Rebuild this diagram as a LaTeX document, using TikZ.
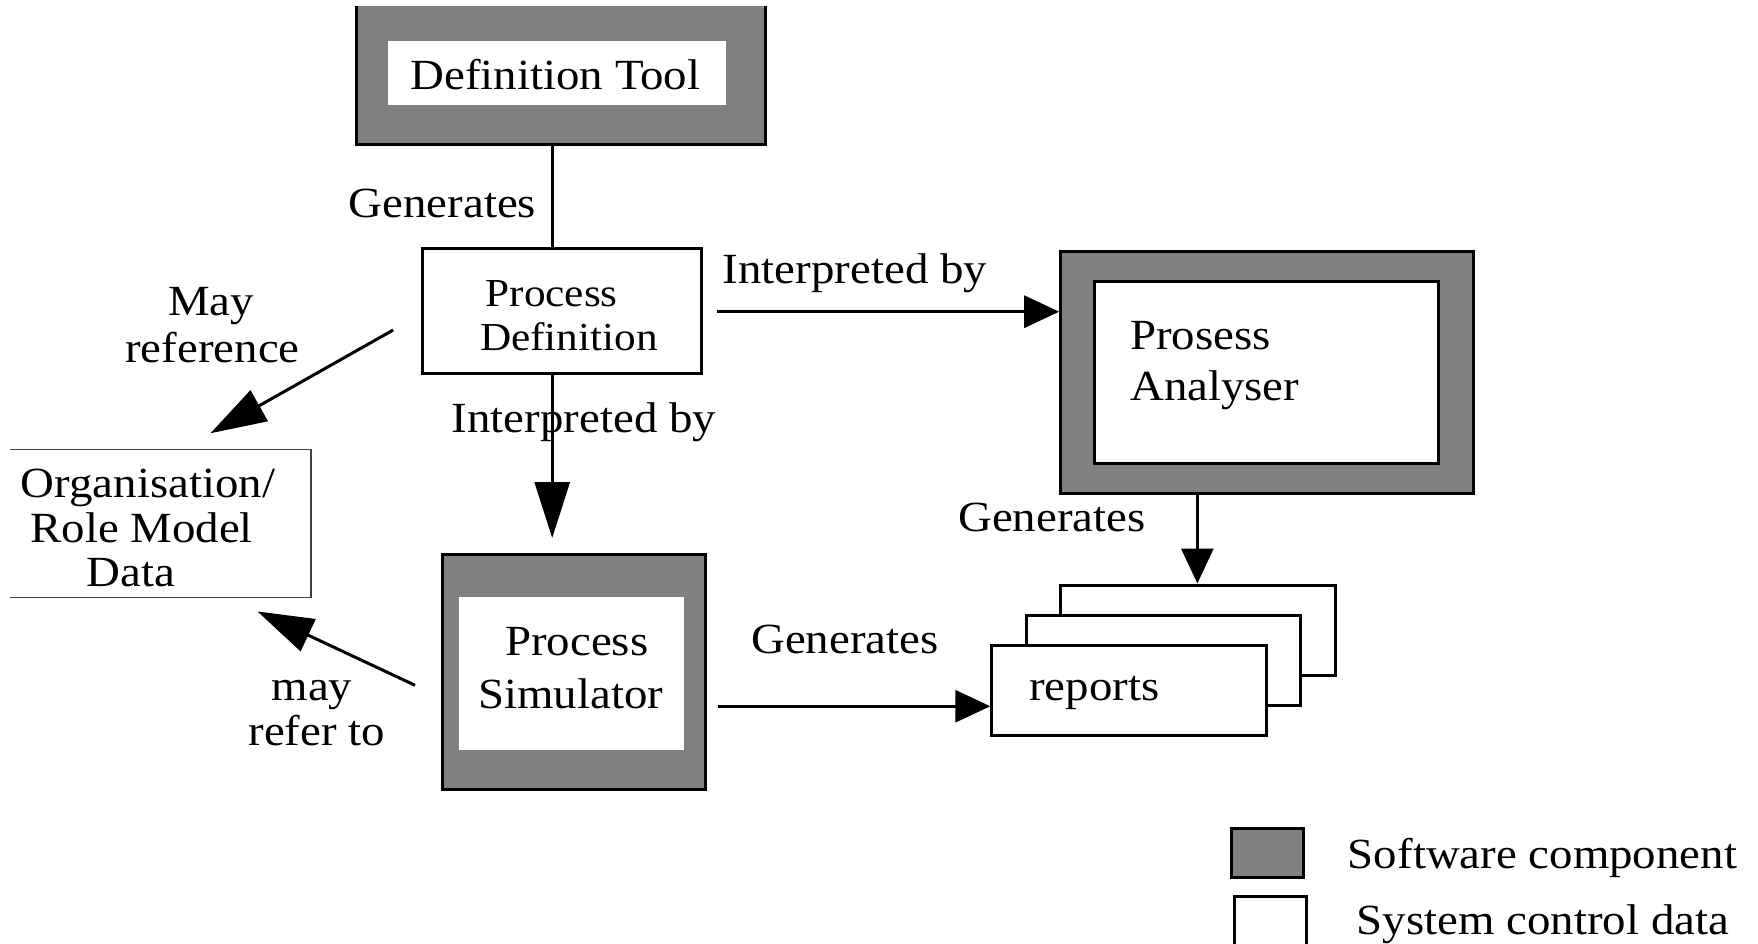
\documentclass[tikz,border=0pt]{standalone}
\usepackage{fontspec}
\setmainfont{Liberation Serif}[FakeStretch=1.09]
\usetikzlibrary{arrows.meta}
\definecolor{swgray}{RGB}{128,128,128}
\newcommand\lblfont{\fontsize{43}{47}\selectfont}
\newcommand\pdfont{\fontsize{39.7}{44}\selectfont}
\tikzset{
  lbl/.style={font=\lblfont, inner sep=0pt, anchor=base},
  lblw/.style={font=\lblfont, inner sep=0pt, anchor=base west},
  swouter/.style={draw=black, fill=swgray, line width=3pt, inner sep=0pt},
  swinner/.style={fill=white, inner sep=0pt},
  databox/.style={draw=black, fill=white, line width=3pt, inner sep=0pt},
  conn/.style={line width=3pt, draw=black},
  bigarrow/.style={-{Triangle[length=56pt,width=35pt]}},
  smallarrow/.style={-{Triangle[length=35pt,width=32pt]}},
}
\begin{document}
\begin{tikzpicture}[x=1pt, y=-1pt]
\useasboundingbox (0,0) rectangle (1758,944);
\fill[white] (0,0) rectangle (1758,944);

% Definition Tool (software component, its top runs off the page)
\begin{scope}
  \clip (0,7) rectangle (1758,944);
  \node[swouter, minimum width=409pt, minimum height=165pt] (dt) at (560.5,62.5) {};
\end{scope}
\node[swinner, minimum width=337.4pt, minimum height=64.3pt] (dtin) at (557,72.85) {};
\node[lbl] (dtlbl) at (555.5,90) {Definition Tool};

% Process Definition (system control data)
\node[databox, minimum width=279pt, minimum height=125pt] (pd) at (562.2,310.5) {};
\node[lbl, font=\pdfont] (pdl1) at (551.7,306.7) {Process};
\node[lbl, font=\pdfont] (pdl2) at (569,350) {Definition};

% Organisation / Role Model Data
\node[inner sep=0pt, line width=1.5pt, minimum width=299pt, minimum height=146.7pt] (org) at (160.5,523.35) {};
\draw[line width=1.5pt, black!75] (org.north west) -- (org.north east) -- (org.south east) -- (org.south west);
\node[lbl] (orgl1) at (148,497.7) {Organisation/};
\node[lbl] (orgl2) at (141.7,542.7) {Role Model};
\node[lbl] (orgl3) at (130.7,586) {Data};

% Process Simulator (software component)
\node[swouter, minimum width=263pt, minimum height=234.5pt] (ps) at (574.2,671.75) {};
\node[swinner, minimum width=225pt, minimum height=153.3pt] (psin) at (571.8,673.35) {};
\node[lbl] (psl1) at (576.7,655) {Process};
\node[lbl] (psl2) at (570.6,708.3) {Simulator};

% Process Analyser (software component)
\node[swouter, minimum width=412.3pt, minimum height=241.6pt] (pa) at (1266.85,372.5) {};
\node[databox, minimum width=343.6pt, minimum height=181.6pt] (pain) at (1266.2,372.5) {};
\node[lblw] (pal1) at (1130,349.3) {Prosess};
\node[lblw] (pal2) at (1130,400) {Analyser};

% Stack of reports
\node[databox, minimum width=274.3pt, minimum height=90pt] (rep3) at (1197.85,630) {};
\node[databox, minimum width=274pt, minimum height=90pt] (rep2) at (1163.5,660) {};
\node[databox, minimum width=274.2pt, minimum height=90pt] (rep1) at (1128.9,690) {};
\node[lblw] (repl) at (1029,700) {reports};

% Connectors
\draw[conn] ([xshift=-10pt]pd.north |- dt.south) -- ([xshift=-10pt]pd.north);
\draw[conn, bigarrow] ([xshift=-10pt]pd.south) -- ([xshift=-22pt, yshift=15pt]ps.north);
\draw[conn, bigarrow] ([xshift=-28pt, yshift=-19.5pt]pd.west) -- ([xshift=50pt, yshift=16pt]org.north);
\draw[conn, bigarrow] ([xshift=-26.2pt, yshift=-13.5pt]ps.west) -- ([xshift=97pt, yshift=-14pt]org.south);
\coordinate (pdout) at ([xshift=14pt, yshift=-1.2pt]pd.east);
\draw[conn, smallarrow] (pdout) -- (pdout -| pa.west);
\coordinate (paout) at ([xshift=-69.5pt]pa.south);
\draw[conn, smallarrow] (paout) -- (paout |- rep3.north);
\coordinate (psout) at ([xshift=10.7pt, yshift=-34.5pt]ps.east);
\draw[conn, smallarrow] (psout) -- (psout -| rep1.west);

% Connector labels
\node[lbl] (gen1) at (442.5,218) {Generates};
\node[lbl] (interp1) at (584,432) {Interpreted by};
\node[lbl] (interp2) at (855,283.3) {Interpreted by};
\node[lbl] (gen2) at (1052,531.7) {Generates};
\node[lbl] (gen3) at (845,653.3) {Generates};
\node[lbl] (mayref1) at (211,315) {May};
\node[lbl] (mayref2) at (212.5,362.7) {reference};
\node[lbl] (mayrt1) at (312,700) {may};
\node[lbl] (mayrt2) at (316.7,745) {refer to};

% Legend
\node[swouter, minimum width=72pt, minimum height=49pt] (legsw) at (1267,852.5) {};
\node[databox, minimum width=72pt, minimum height=61pt] (legdata) at (1270,927) {};
\node[lblw] (legswl) at (1347.7,868) {Software component};
\node[lblw] (legdatal) at (1356.6,934) {System control data};
\end{tikzpicture}
\end{document}
